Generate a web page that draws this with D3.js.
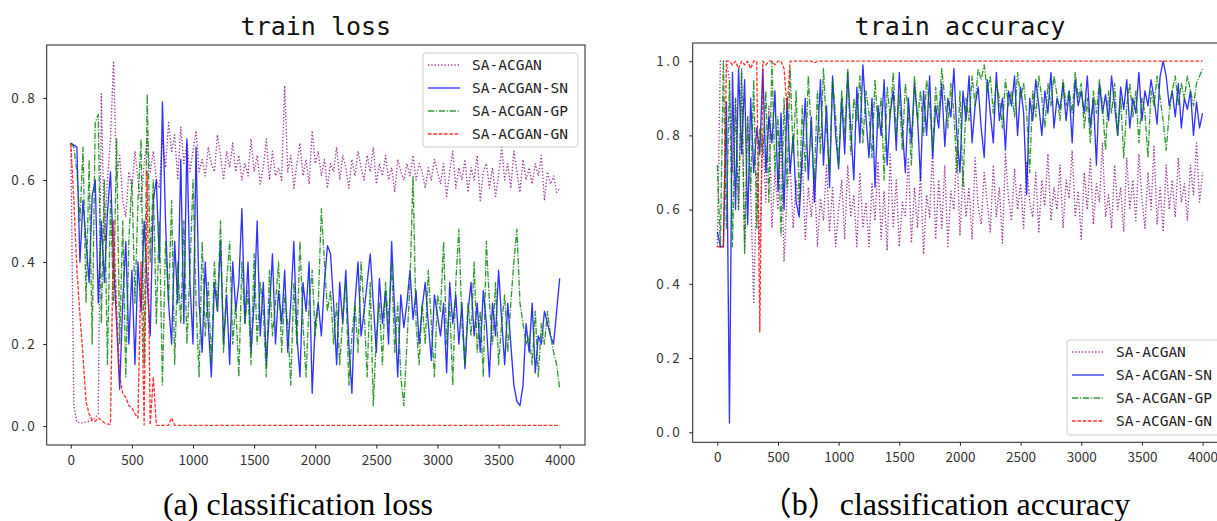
<!DOCTYPE html>
<html>
<head>
<meta charset="utf-8">
<script src="https://cdn.jsdelivr.net/npm/d3@7"></script>
<style>
html,body{margin:0;padding:0;background:#fff;}
svg{display:block;}
</style>
</head>
<body>
<div id="chart"></div>
<script>
// ---------------- DATA ----------------
const iterations = d3.range(0, 4001, 25);
const seriesNames = ["SA-ACGAN", "SA-ACGAN-SN", "SA-ACGAN-GP", "SA-ACGAN-GN"];
const xTicks = [0, 500, 1000, 1500, 2000, 2500, 3000, 3500, 4000];
const lossTicks = [0.0, 0.2, 0.4, 0.6, 0.8];
const accTicks = [0.0, 0.2, 0.4, 0.6, 0.8, 1.0];
const titles = ["train loss", "train accuracy"];
const captions = ["(a) classification loss", "（b）classification accuracy"];

const lossBase = [0.69,0.05,0.01,0.008,0.008,0.01,0.012,0.015,0.02,0.03,0.81,0.45,0.60,0.70,0.89,0.60,0.66,0.55,0.51,0.62,
0.58,0.67,0.60,0.54,0.64,0.70,0.62,0.67,0.60,0.58,0.70,0.63,0.74,0.67,0.71,0.60,0.73,0.64,0.69,0.62,
0.67,0.72,0.62,0.65,0.61,0.68,0.64,0.62,0.71,0.66,0.60,0.67,0.63,0.69,0.62,0.66,0.60,0.64,0.61,0.70,
0.62,0.66,0.59,0.63,0.70,0.60,0.67,0.61,0.63,0.60,0.83,0.62,0.66,0.58,0.64,0.69,0.61,0.65,0.59,0.72,
0.64,0.67,0.61,0.65,0.58,0.64,0.62,0.68,0.60,0.66,0.63,0.58,0.65,0.61,0.67,0.63,0.60,0.66,0.62,0.68,
0.59,0.64,0.61,0.66,0.60,0.63,0.57,0.65,0.62,0.60,0.64,0.61,0.66,0.60,0.64,0.62,0.58,0.63,0.60,0.65,
0.62,0.59,0.64,0.56,0.62,0.67,0.58,0.63,0.60,0.65,0.57,0.63,0.60,0.66,0.55,0.62,0.64,0.58,0.63,0.56,
0.61,0.68,0.60,0.64,0.58,0.67,0.62,0.57,0.65,0.60,0.63,0.59,0.64,0.61,0.66,0.55,0.62,0.59,0.61,0.57,0.58];

const lossSN = [0.69,0.685,0.68,0.40,0.55,0.45,0.35,0.56,0.60,0.30,0.50,0.35,0.52,0.62,0.40,0.25,0.09,0.30,0.45,0.20,
0.38,0.15,0.40,0.28,0.50,0.35,0.22,0.55,0.60,0.40,0.79,0.50,0.30,0.20,0.45,0.30,0.65,0.25,0.70,0.35,
0.20,0.68,0.30,0.18,0.40,0.25,0.12,0.35,0.28,0.45,0.20,0.32,0.15,0.40,0.28,0.35,0.53,0.25,0.40,0.18,
0.30,0.50,0.22,0.35,0.15,0.28,0.42,0.20,0.33,0.25,0.38,0.18,0.30,0.45,0.22,0.12,0.35,0.28,0.40,0.08,
0.25,0.30,0.22,0.35,0.44,0.42,0.30,0.15,0.35,0.25,0.38,0.20,0.08,0.30,0.40,0.22,0.28,0.35,0.42,0.30,
0.18,0.36,0.25,0.33,0.20,0.45,0.28,0.12,0.32,0.24,0.30,0.38,0.26,0.33,0.20,0.29,0.35,0.25,0.16,0.32,
0.27,0.22,0.30,0.13,0.35,0.25,0.32,0.20,0.30,0.14,0.28,0.35,0.22,0.30,0.18,0.33,0.25,0.12,0.30,0.22,
0.38,0.26,0.15,0.30,0.20,0.10,0.06,0.05,0.10,0.25,0.18,0.30,0.13,0.22,0.20,0.28,0.25,0.22,0.20,0.28,0.36];

const lossGP = [0.69,0.68,0.62,0.50,0.68,0.30,0.65,0.20,0.74,0.76,0.25,0.60,0.15,0.55,0.30,0.70,0.20,0.50,0.12,0.45,
0.60,0.30,0.55,0.70,0.15,0.81,0.40,0.60,0.25,0.50,0.10,0.45,0.30,0.55,0.15,0.40,0.25,0.50,0.20,0.38,
0.60,0.30,0.12,0.45,0.22,0.35,0.15,0.40,0.28,0.50,0.18,0.35,0.45,0.20,0.30,0.12,0.40,0.25,0.33,0.15,
0.42,0.20,0.35,0.28,0.12,0.38,0.22,0.30,0.40,0.18,0.32,0.25,0.10,0.35,0.20,0.45,0.25,0.12,0.30,0.38,
0.22,0.30,0.53,0.40,0.28,0.33,0.20,0.30,0.15,0.26,0.35,0.10,0.22,0.30,0.18,0.40,0.28,0.12,0.35,0.05,
0.22,0.30,0.15,0.35,0.25,0.40,0.18,0.30,0.12,0.05,0.20,0.35,0.61,0.25,0.15,0.30,0.20,0.38,0.25,0.12,
0.32,0.28,0.45,0.20,0.30,0.10,0.35,0.48,0.25,0.15,0.30,0.22,0.40,0.18,0.28,0.12,0.45,0.30,0.20,0.35,
0.15,0.25,0.32,0.18,0.30,0.40,0.48,0.30,0.25,0.20,0.22,0.15,0.28,0.12,0.25,0.20,0.28,0.22,0.18,0.15,0.09];

const lossGN = [0.69,0.55,0.38,0.27,0.17,0.06,0.03,0.015,0.012,0.02,0.015,0.008,0.005,0.005,0.50,0.28,0.12,0.08,0.07,0.05,
0.045,0.03,0.02,0.40,0.003,0.62,0.003,0.12,0.002,0.002,0.002,0.002,0.002,0.02,0.002,0.002,0.002,0.002,0.002,0.002,
0.002,0.002,0.002,0.002,0.002,0.002,0.002,0.002,0.002,0.002,0.002,0.002,0.002,0.002,0.002,0.002,0.002,0.002,0.002,0.002,
0.002,0.002,0.002,0.002,0.002,0.002,0.002,0.002,0.002,0.002,0.002,0.002,0.002,0.002,0.002,0.002,0.002,0.002,0.002,0.002,
0.002,0.002,0.002,0.002,0.002,0.002,0.002,0.002,0.002,0.002,0.002,0.002,0.002,0.002,0.002,0.002,0.002,0.002,0.002,0.002,
0.002,0.002,0.002,0.002,0.002,0.002,0.002,0.002,0.002,0.002,0.002,0.002,0.002,0.002,0.002,0.002,0.002,0.002,0.002,0.002,
0.002,0.002,0.002,0.002,0.002,0.002,0.002,0.002,0.002,0.002,0.002,0.002,0.002,0.002,0.002,0.002,0.002,0.002,0.002,0.002,
0.002,0.002,0.002,0.002,0.002,0.002,0.002,0.002,0.002,0.002,0.002,0.002,0.002,0.002,0.002,0.002,0.002,0.002,0.002,0.002,0.002];

const accBase = [0.5,1.0,1.0,1.0,0.95,0.70,0.90,0.60,0.97,0.50,0.85,0.65,0.35,0.70,0.50,0.80,0.62,0.88,0.55,0.70,
0.60,0.80,0.46,0.65,0.72,0.55,0.68,0.60,0.74,0.52,0.66,0.58,0.70,0.50,0.63,0.57,0.72,0.54,0.66,0.50,
0.60,0.68,0.52,0.72,0.58,0.64,0.50,0.70,0.55,0.62,0.50,0.67,0.57,0.73,0.52,0.65,0.49,0.75,0.55,0.68,
0.50,0.62,0.58,0.74,0.51,0.66,0.55,0.70,0.48,0.64,0.58,0.76,0.52,0.68,0.55,0.72,0.50,0.65,0.60,0.77,
0.53,0.70,0.58,0.66,0.52,0.74,0.61,0.56,0.70,0.62,0.54,0.72,0.58,0.66,0.51,0.75,0.63,0.57,0.71,0.60,
0.67,0.55,0.73,0.62,0.58,0.70,0.54,0.68,0.61,0.75,0.57,0.66,0.60,0.72,0.55,0.68,0.63,0.76,0.58,0.65,
0.52,0.70,0.60,0.74,0.56,0.67,0.62,0.78,0.58,0.64,0.55,0.72,0.60,0.66,0.54,0.74,0.60,0.68,0.57,0.75,
0.63,0.55,0.70,0.60,0.77,0.56,0.66,0.54,0.72,0.60,0.68,0.58,0.74,0.62,0.67,0.57,0.72,0.64,0.78,0.62,0.70];

const accSN = [0.54,0.50,0.50,0.89,0.025,0.97,0.60,0.98,0.75,0.95,0.56,0.90,0.70,0.82,0.75,0.98,0.70,0.85,0.78,0.92,
0.65,0.86,0.60,0.90,0.70,0.80,0.62,0.58,0.75,0.90,0.68,0.85,0.62,0.78,0.95,0.72,0.88,0.66,0.96,0.80,
0.71,0.90,0.75,0.97,0.82,0.68,0.93,0.78,0.99,0.85,0.74,0.90,0.66,0.88,0.80,0.95,0.72,0.86,0.92,0.76,
0.97,0.82,0.70,0.90,0.78,0.94,0.85,0.68,0.92,0.80,0.96,0.74,0.88,0.82,0.94,0.77,0.90,0.85,0.98,0.80,
0.70,0.92,0.84,0.96,0.78,0.88,0.93,0.82,0.74,0.95,0.86,0.78,0.97,0.84,0.90,0.76,0.92,0.88,0.96,0.80,
0.93,0.86,0.64,0.90,0.84,0.95,0.88,0.80,0.92,0.86,0.97,0.82,0.90,0.87,0.94,0.84,0.92,0.78,0.95,0.88,
0.92,0.86,0.96,0.82,0.90,0.72,0.94,0.86,0.91,0.84,0.96,0.88,0.80,0.93,0.87,0.95,0.82,0.90,0.86,0.97,
0.84,0.92,0.88,0.95,0.90,0.83,0.96,1.0,0.96,0.88,0.92,0.85,0.94,0.82,0.90,0.87,0.92,0.80,0.89,0.82,0.86];

const accGP = [0.72,0.50,1.0,0.55,0.95,0.50,0.90,0.60,0.98,0.48,0.85,0.65,0.95,0.55,0.82,0.75,0.92,0.62,1.0,0.70,
0.85,0.53,0.90,0.66,0.98,0.75,0.92,0.62,0.88,0.70,0.96,0.80,0.68,0.92,0.75,0.98,0.82,0.70,0.95,0.85,
0.72,0.92,0.80,0.98,0.75,0.90,0.84,0.96,0.78,0.92,0.86,0.74,0.95,0.82,0.90,0.68,0.93,0.85,0.97,0.80,
0.91,0.76,0.94,0.86,0.72,0.96,0.84,0.92,0.80,0.95,0.88,0.76,0.93,0.85,0.98,0.90,0.82,0.94,0.86,0.70,
0.92,0.66,0.90,0.84,0.96,0.88,0.98,0.95,0.99,0.92,0.96,0.86,0.94,0.90,0.82,0.95,0.88,0.92,0.85,0.97,
0.90,0.94,0.86,0.70,0.92,0.85,0.96,0.90,0.82,0.94,0.88,0.96,0.91,0.84,0.95,0.88,0.92,0.86,0.97,0.90,
0.94,0.82,0.90,0.78,0.92,0.86,0.95,0.88,0.76,0.92,0.86,0.94,0.80,0.90,0.74,0.88,0.94,0.85,0.92,0.78,
0.90,0.86,0.74,0.92,0.88,0.96,0.90,0.84,0.76,0.86,0.92,0.96,0.88,0.94,0.90,0.96,0.92,0.88,0.94,0.96,0.98];

const accGN = [0.5,0.5,0.5,1.0,1.0,0.99,1.0,0.98,1.0,0.99,1.0,0.98,1.0,1.0,0.27,1.0,0.99,1.0,1.0,0.99,
1.0,1.0,0.98,0.87,1.0,1.0,1.0,1.0,1.0,1.0,1.0,1.0,0.995,1.0,1.0,1.0,1.0,1.0,1.0,1.0,
1.0,1.0,1.0,1.0,1.0,1.0,1.0,1.0,1.0,1.0,1.0,1.0,1.0,1.0,1.0,1.0,1.0,1.0,1.0,1.0,
1.0,1.0,1.0,1.0,1.0,1.0,1.0,1.0,1.0,1.0,1.0,1.0,1.0,1.0,1.0,1.0,1.0,1.0,1.0,1.0,
1.0,1.0,1.0,1.0,1.0,1.0,1.0,1.0,1.0,1.0,1.0,1.0,1.0,1.0,1.0,1.0,1.0,1.0,1.0,1.0,
1.0,1.0,1.0,1.0,1.0,1.0,1.0,1.0,1.0,1.0,1.0,1.0,1.0,1.0,1.0,1.0,1.0,1.0,1.0,1.0,
1.0,1.0,1.0,1.0,1.0,1.0,1.0,1.0,1.0,1.0,1.0,1.0,1.0,1.0,1.0,1.0,1.0,1.0,1.0,1.0,
1.0,1.0,1.0,1.0,1.0,1.0,1.0,1.0,1.0,1.0,1.0,1.0,1.0,1.0,1.0,1.0,1.0,1.0,1.0,1.0,1.0];

// ---------------- STYLE ----------------
const styles = [
  {color: "purple", dash: "1.3,2.0"},
  {color: "blue",   dash: null},
  {color: "green",  dash: "6.4,1.6,1.2,1.6"},
  {color: "red",    dash: "3.7,1.6"}
];

const W = 1217, H = 521;
const svg = d3.select("#chart").append("svg").attr("width", W).attr("height", H)
  .style("background", "#fff");

const tickFont = "'Noto Sans CJK SC', 'DejaVu Sans', sans-serif";
const monoFont = "'DejaVu Sans Mono', 'Liberation Mono', monospace";

function panel(id, cfg) {
  const x = d3.scaleLinear().domain(cfg.xDomain).range([cfg.left, cfg.right]);
  const y = d3.scaleLinear().domain(cfg.yDomain).range([cfg.bottom, cfg.top]);
  const g = svg.append("g");

  g.append("clipPath").attr("id", "clip" + id).append("rect")
    .attr("x", cfg.left).attr("y", cfg.top)
    .attr("width", cfg.right - cfg.left).attr("height", cfg.bottom - cfg.top);

  const line = d3.line().x((d, i) => x(iterations[i])).y(d => y(d));
  const lines = g.append("g").attr("clip-path", `url(#clip${id})`);
  cfg.series.forEach((s, k) => {
    lines.append("path").datum(s)
      .attr("d", line)
      .attr("fill", "none")
      .attr("stroke", styles[k].color)
      .attr("stroke-opacity", 0.8)
      .attr("stroke-width", 1.35)
      .attr("stroke-linejoin", "round")
      .attr("stroke-dasharray", styles[k].dash);
  });

  // frame
  g.append("rect").attr("x", cfg.left).attr("y", cfg.top)
    .attr("width", cfg.right - cfg.left).attr("height", cfg.bottom - cfg.top)
    .attr("fill", "none").attr("stroke", "#222").attr("stroke-width", 1);

  // axes
  const xAxis = d3.axisBottom(x).tickValues(xTicks).tickSize(3.5).tickPadding(7).tickFormat(d3.format("d"));
  const yAxis = d3.axisLeft(y).tickValues(cfg.yTicks).tickSize(3.5).tickPadding(cfg.yPad).tickFormat(d3.format(".1f"));
  const xa = g.append("g").attr("transform", `translate(0,${cfg.bottom})`).call(xAxis);
  const ya = g.append("g").attr("transform", `translate(${cfg.left},0)`).call(yAxis);
  [xa, ya].forEach(a => {
    a.select(".domain").remove();
    a.selectAll("line").attr("stroke", "#222");
    a.selectAll("text").attr("fill", "#333").style("font-family", tickFont).style("font-size", "13.5px");
  });
  ya.selectAll("text").style("letter-spacing", "2.4px");

  // title
  g.append("text").attr("x", (cfg.left + cfg.right) / 2).attr("y", 35)
    .attr("text-anchor", "middle").style("font-family", monoFont).style("font-size", "25px")
    .attr("fill", "#111").text(cfg.title);

  // caption
  g.append("text").attr("x", cfg.captionX).attr("y", 515)
    .attr("text-anchor", "middle")
    .style("font-family", "'Liberation Serif', 'Noto Sans CJK SC', serif").style("font-size", "32px")
    .attr("fill", "#000").text(cfg.caption);

  // legend
  const L = cfg.legend;
  g.append("rect").attr("x", L.x).attr("y", L.y).attr("width", L.w).attr("height", L.h)
    .attr("rx", 3).attr("fill", "#fff").attr("fill-opacity", 0.85)
    .attr("stroke", "#ccc").attr("stroke-width", 1);
  seriesNames.forEach((name, k) => {
    const cy = L.y + 12 + k * 23;
    g.append("line").attr("x1", L.x + 5).attr("x2", L.x + 37).attr("y1", cy).attr("y2", cy)
      .attr("stroke", styles[k].color).attr("stroke-opacity", 0.8).attr("stroke-width", 1.35)
      .attr("stroke-dasharray", styles[k].dash);
    g.append("text").attr("x", L.x + 49).attr("y", cy).attr("dy", "0.35em")
      .style("font-family", monoFont).style("font-size", "14.5px").attr("fill", "#222").text(name);
  });
}

panel("L", {
  left: 46.7, right: 585, top: 45, bottom: 445,
  xDomain: [-197, 4207], yDomain: [-0.046, 0.929],
  yTicks: lossTicks, yPad: 6, series: [lossBase, lossSN, lossGP, lossGN],
  title: titles[0], caption: captions[0], captionX: 298,
  legend: {x: 423, y: 53, w: 155, h: 94}
});

panel("R", {
  left: 692.7, right: 1227.2, top: 43, bottom: 442.3,
  xDomain: [-203, 4203], yDomain: [-0.027, 1.049],
  yTicks: accTicks, yPad: 7, series: [accBase, accSN, accGP, accGN],
  title: titles[1], caption: captions[1], captionX: 945,
  legend: {x: 1067, y: 340, w: 160, h: 95}
});
</script>
</body>
</html>
